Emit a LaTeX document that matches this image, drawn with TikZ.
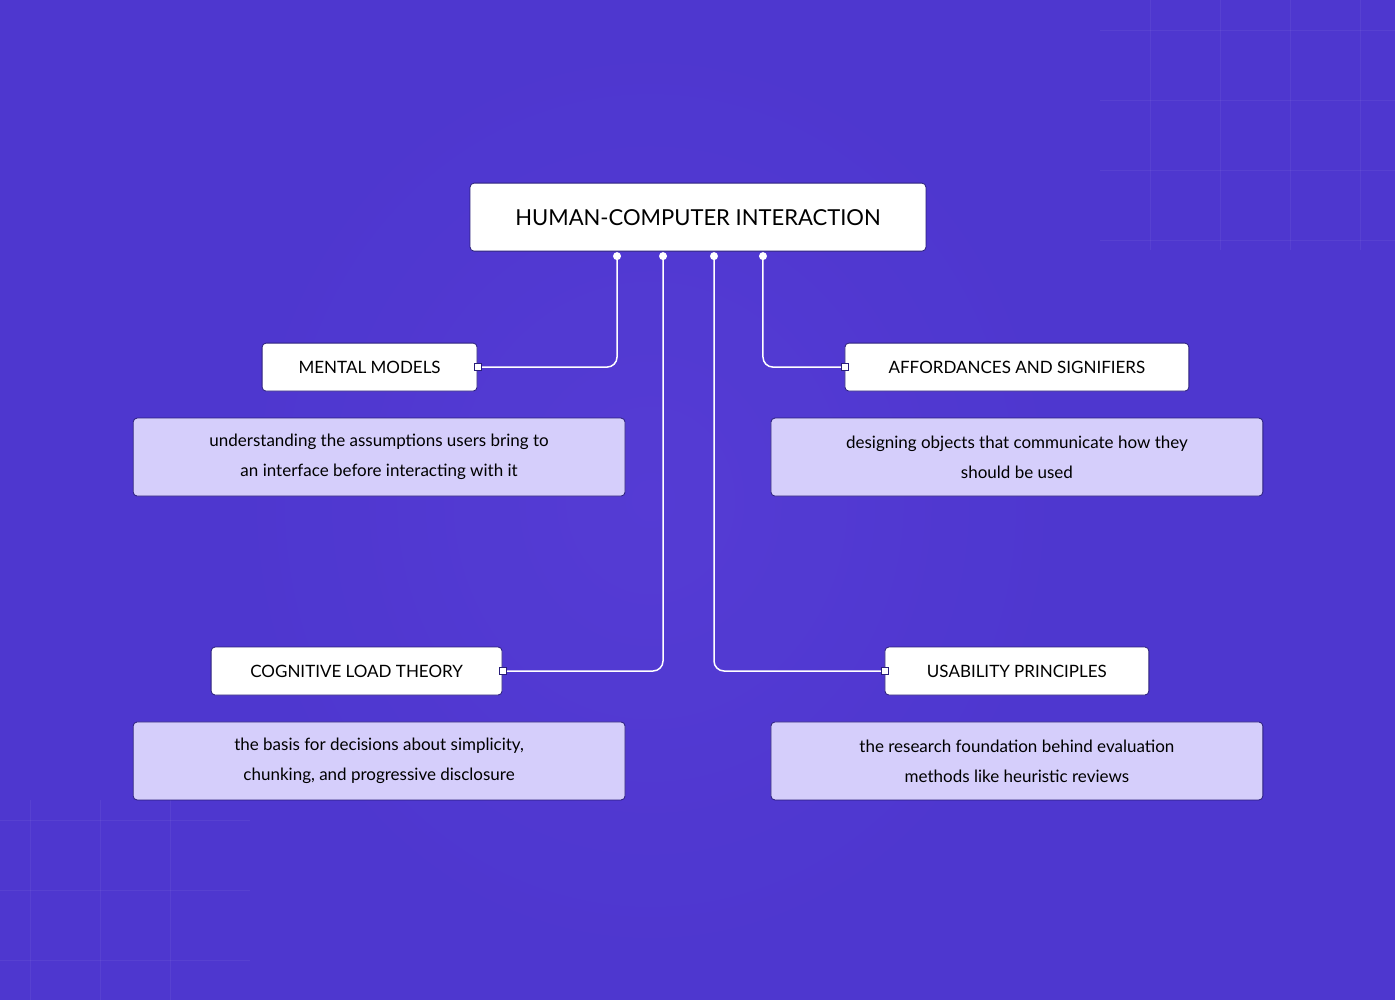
\documentclass[tikz,border=0pt]{standalone}
\usepackage{fontspec}
\setmainfont{Lato}
\definecolor{bgc}{HTML}{4E37CF}
\definecolor{bgl}{HTML}{5A3FD8}
\definecolor{descc}{HTML}{D5CEFB}
\definecolor{edge}{HTML}{2A1E7A}
\begin{document}
\begin{tikzpicture}[x=1pt,y=-1pt,
  topic/.style={draw=edge,line width=0.8pt,fill=white,rounded corners=4pt,font=\fontsize{17}{20}\selectfont,text=black},
  desc/.style={draw=edge,line width=0.8pt,fill=descc,rounded corners=4pt,font=\fontsize{17}{30}\selectfont,align=center,text=black},
  conn/.style={draw=white,line width=1.5pt,rounded corners=10pt},
  dotc/.style={circle,fill=white,inner sep=0pt,minimum size=8pt},
  sq/.style={fill=white,draw=edge,line width=0.4pt,inner sep=0pt,minimum size=7pt}]
\fill[bgc] (0,0) rectangle (1395,1000);
\shade[inner color=bgl,outer color=bgc,opacity=0.6] (200,0) rectangle (1100,1000);
\foreach \x in {1150,1220,1290,1360} \draw[white,opacity=0.05] (\x,0) -- (\x,250);
\foreach \y in {30,100,170,240} \draw[white,opacity=0.05] (1100,\y) -- (1395,\y);
\foreach \x in {30,100,170} \draw[white,opacity=0.05] (\x,800) -- (\x,1000);
\foreach \y in {820,890,960} \draw[white,opacity=0.05] (0,\y) -- (250,\y);
\node[topic,minimum width=456pt,minimum height=68pt,font=\fontsize{22}{26}\selectfont] (hci) at (698,217) {HUMAN-COMPUTER INTERACTION};
\node[topic,minimum width=215pt,minimum height=48pt] (mm) at (369.5,367) {MENTAL MODELS};
\node[topic,minimum width=344pt,minimum height=48pt] (af) at (1017,367) {AFFORDANCES AND SIGNIFIERS};
\node[topic,minimum width=291pt,minimum height=48pt] (cl) at (356.5,671) {COGNITIVE LOAD THEORY};
\node[topic,minimum width=264pt,minimum height=48pt] (us) at (1017,671) {USABILITY PRINCIPLES};
\node[desc,minimum width=492pt,minimum height=78pt] (d1) at (379,457) {understanding the assumptions users bring to\\an interface before interacting with it};
\node[desc,minimum width=492pt,minimum height=78pt] (d2) at (1017,457) {designing objects that communicate how they\\should be used};
\node[desc,minimum width=492pt,minimum height=78pt] (d3) at (379,761) {the basis for decisions about simplicity,\\chunking, and progressive disclosure};
\node[desc,minimum width=492pt,minimum height=78pt] (d4) at (1017,761) {the research foundation behind evaluation\\methods like heuristic reviews};
\coordinate (p1) at (617,256); \coordinate (p2) at (663,256);
\coordinate (p3) at (714,256); \coordinate (p4) at (763,256);
\draw[conn] (p1) |- (mm.east);
\draw[conn] (p2) |- (cl.east);
\draw[conn] (p3) |- (us.west);
\draw[conn] (p4) |- (af.west);
\foreach \p in {p1,p2,p3,p4} \node[dotc] at (\p) {};
\node[sq] at (mm.east) {}; \node[sq] at (cl.east) {};
\node[sq] at (us.west) {}; \node[sq] at (af.west) {};
\end{tikzpicture}
\end{document}
